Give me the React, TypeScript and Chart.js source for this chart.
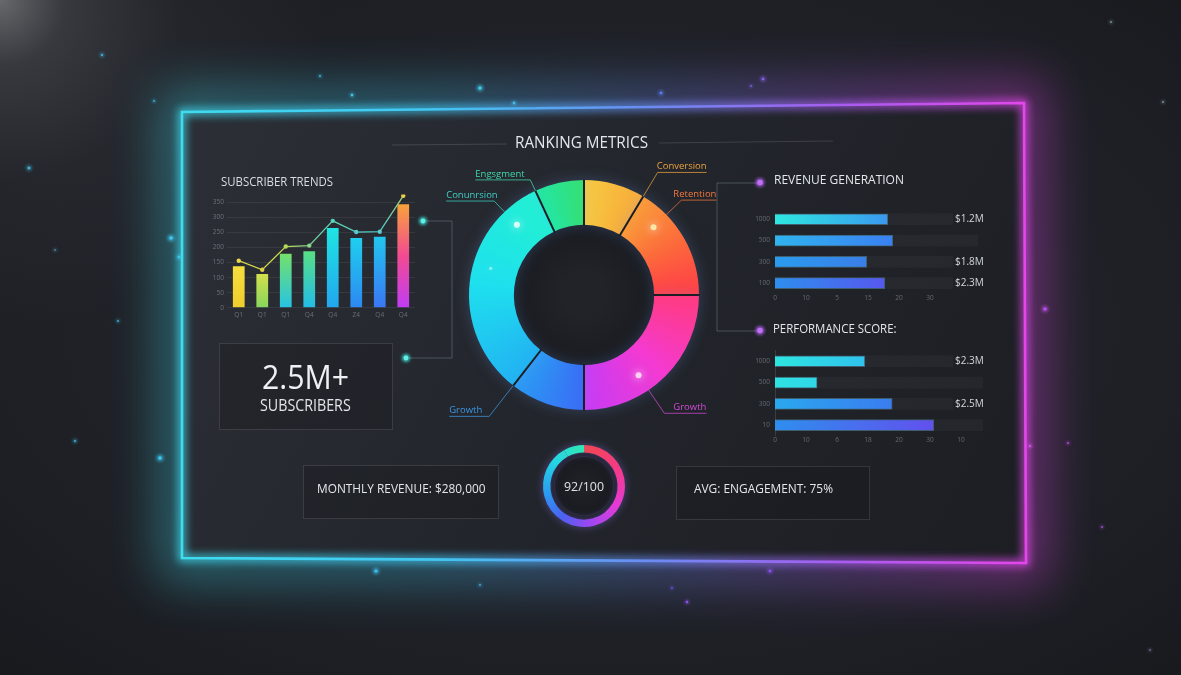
import React, { useEffect, useRef } from "react";
import { Chart, registerables } from "chart.js";

Chart.register(...registerables);

// ---------------- data ----------------
const subscriberQuarters = ["Q1", "Q1", "Q1", "Q4", "Q4", "Z4", "Q4", "Q4"];
const subscriberBars = [138, 112, 179, 187, 264, 231, 235, 343];
const subscriberTrend = [156, 126, 203, 206, 288, 251, 252, 371];
const subscriberTicks = ["0", "50", "100", "150", "200", "250", "300", "350"];

const rankingLabels = ["Conversion", "Retention", "Growth", "Growth", "Conunrsion", "Engsgment"];
const rankingValues = [31, 59, 90, 38, 117, 25];

const revenueCategories = ["1000", "500", "300", "100"];
const revenueValues = [18.2, 19.0, 14.8, 17.7];
const revenueTrack = [28.7, 32.7, 28.7, 28.7];
const revenueAmounts = ["$1.2M", "", "$1.8M", "$2.3M"];
const revenueTicks = ["0", "10", "5", "15", "20", "30"];

const performanceCategories = ["1000", "500", "300", "10"];
const performanceValues = [14.5, 6.8, 18.9, 25.6];
const performanceTrack = [28.7, 33.5, 28.7, 33.5];
const performanceAmounts = ["$2.3M", "", "$2.5M", ""];
const performanceTicks = ["0", "10", "6", "18", "20", "30", "10"];

const scoreValue = 92;
const scoreMax = 100;

const titleText = "RANKING METRICS";
const subscriberTitle = "SUBSCRIBER TRENDS";
const revenueTitle = "REVENUE GENERATION";
const performanceTitle = "PERFORMANCE SCORE:";
const subscriberHeadline = "2.5M+";
const subscriberCaption = "SUBSCRIBERS";
const monthlyRevenueText = "MONTHLY REVENUE: $280,000";
const engagementText = "AVG: ENGAGEMENT: 75%";

// ---------------- styles ----------------
const FONT = '"Open Sans", "Noto Sans", sans-serif';
const TICK = "rgba(200,208,218,0.40)";
const HEAD = "#e3e7ec";

const subscriberBarColors = [
  ["#f5de3f", "#efcd2c"],
  ["#d3e04c", "#86d65c"],
  ["#74e06a", "#26c4e4"],
  ["#58de86", "#22bde8"],
  ["#20e4e2", "#22a6f0"],
  ["#20cfee", "#2c88f2"],
  ["#22c6ee", "#3a76f4"],
  ["#f8a23a", "#f24a92", "#c03cf5"],
];
const subscriberPointColors = ["#e8d84a", "#e0d044", "#b8d85a", "#8ad88a", "#58d0c0", "#58c8d0", "#60c8c8", "#e8d24a"];

const rankingColors = [
  ["#f6cb40", "#f8aa3a"],
  ["#f99c3a", "#fc6a3b", "#ff3d48"],
  ["#ff3b80", "#f43ad2", "#c63bf4"],
  ["#3a6cf6", "#2a9cf2"],
  ["#22b2f2", "#1ee0ee", "#22f0d2"],
  ["#22e6a6", "#36df72"],
];

const rankingCallouts = [
  { seg: 5, frac: 0, from: "outer", reach: 12, run: -55, color: "#3fd9a8" },
  { seg: 0, frac: 1, from: "outer", reach: 28, run: 49, color: "#e9a23f" },
  { seg: 1, frac: 0.25, from: "outer", reach: 21, run: 35, color: "#f2783f" },
  { seg: 4, frac: 0.84, from: "outer", reach: 15, run: -48, color: "#3ccfc4" },
  { seg: 3, frac: 1, from: "outer", reach: 39, run: -40, color: "#3b98e6" },
  { seg: 2, frac: 0.62, from: "mid", reach: 28, run: 42, color: "#d14ad6" },
];
const rankingDots = [
  { seg: 4, frac: 0.84, color: "#d8fff6", r: 3 },
  { seg: 1, frac: 0.25, color: "#ffe6a8", r: 3 },
  { seg: 2, frac: 0.62, color: "#ffd0f2", r: 3 },
  { seg: 4, frac: 0.58, color: "rgba(220,255,255,0.55)", r: 1.6 },
];

const revenueBarColors = [
  ["#2ee8e0", "#3a98f0"],
  ["#30b4ee", "#3a80f2"],
  ["#2a9cee", "#3a7ee8"],
  ["#2e8eee", "#5658ee"],
];
const performanceBarColors = [
  ["#2ee6e0", "#30c2ee"],
  ["#2ee2e2", "#30d6e8"],
  ["#2aa8ee", "#3a7cf0"],
  ["#2e8eee", "#6250ee"],
];

const gaugeStops: [number, string][] = [
  [0, "#f2474e"],
  [0.18, "#f43a8a"],
  [0.34, "#e43ad8"],
  [0.48, "#9b48f2"],
  [0.6, "#4a62f2"],
  [0.72, "#2a9cf0"],
  [0.86, "#22d6e4"],
  [1, "#30e8b4"],
];

// ---------------- helpers ----------------
let measurer: CanvasRenderingContext2D | null = null;
function textScale(text: string, font: string, width: number) {
  if (!measurer) measurer = document.createElement("canvas").getContext("2d");
  measurer!.font = font;
  const w = measurer!.measureText(text).width;
  return w > 0 ? width / w : 1;
}

function FitLabel(props: {
  text: string; left: number; cy: number; width: number; size: number; color?: string; weight?: number;
}) {
  const { text, left, cy, width, size, color = HEAD, weight = 400 } = props;
  const k = textScale(text, `${weight} ${size}px ${FONT}`, width);
  return (
    <div
      style={{
        position: "absolute",
        left,
        top: cy - 0.531 * size,
        fontFamily: FONT,
        fontSize: size,
        fontWeight: weight,
        lineHeight: `${size}px`,
        color,
        whiteSpace: "nowrap",
        transform: `scaleX(${k})`,
        transformOrigin: "0 50%",
      }}
    >
      {text}
    </div>
  );
}

function ChartCanvas(props: { left: number; top: number; width: number; height: number; build: () => any }) {
  const ref = useRef<HTMLCanvasElement>(null);
  useEffect(() => {
    const chart = new Chart(ref.current as HTMLCanvasElement, props.build());
    return () => chart.destroy();
  }, []);
  return (
    <canvas
      ref={ref}
      width={props.width}
      height={props.height}
      style={{ position: "absolute", left: props.left, top: props.top, width: props.width, height: props.height }}
    />
  );
}

const tickFont = { size: 6.5, family: FONT, lineHeight: 1.1 };

// ---------------- subscriber trends ----------------
function subscriberConfig() {
  return {
    type: "bar",
    data: {
      labels: subscriberQuarters,
      datasets: [
        {
          type: "line",
          data: subscriberTrend,
          order: 0,
          borderWidth: 1.3,
          tension: 0,
          pointRadius: 2.2,
          pointBorderWidth: 0,
          pointBackgroundColor: subscriberPointColors,
          borderColor: (c: any) => {
            const a = c.chart.chartArea;
            if (!a) return "#cfd84a";
            const g = c.chart.ctx.createLinearGradient(a.left, 0, a.right, 0);
            g.addColorStop(0, "#e4d64a");
            g.addColorStop(0.3, "#c4d852");
            g.addColorStop(0.5, "#62d2a8");
            g.addColorStop(0.82, "#4ccac6");
            g.addColorStop(1, "#d8d450");
            return g;
          },
        },
        {
          type: "bar",
          data: subscriberBars,
          order: 1,
          barPercentage: 0.5,
          categoryPercentage: 1,
          backgroundColor: (c: any) => {
            const i = c.dataIndex;
            if (i == null) return subscriberBarColors[0][0];
            const cols = subscriberBarColors[i];
            const chart = c.chart;
            const a = chart.chartArea;
            if (!a || !chart.scales.y) return cols[0];
            const top = chart.scales.y.getPixelForValue(subscriberBars[i]);
            const g = chart.ctx.createLinearGradient(0, top, 0, a.bottom);
            cols.forEach((col: string, k: number) => g.addColorStop(k / (cols.length - 1), col));
            return g;
          },
        },
      ],
    },
    options: {
      responsive: false,
      animation: false,
      layout: { padding: { top: 5, right: 0 } },
      plugins: { legend: { display: false }, tooltip: { enabled: false } },
      scales: {
        x: {
          grid: { display: false, drawTicks: false },
          border: { display: false },
          ticks: { color: TICK, font: tickFont, padding: 4, maxRotation: 0, minRotation: 0, autoSkip: false },
        },
        y: {
          min: 0,
          max: 375,
          border: { display: false },
          grid: { color: "rgba(255,255,255,0.07)", drawTicks: false },
          ticks: {
            stepSize: 50,
            includeBounds: false,
            color: TICK,
            font: tickFont,
            padding: 3,
            callback: (_v: any, i: number) => subscriberTicks[i],
          },
          afterFit: (s: any) => { s.width = 27; },
        },
      },
    },
  };
}

// ---------------- ranking doughnut ----------------
function rankingFill(c: any) {
  const chart = c.chart;
  const a = chart.chartArea;
  if (!a) return rankingColors[c.dataIndex ?? 0][0];
  const cx = (a.left + a.right) / 2;
  const cy = (a.top + a.bottom) / 2;
  const g = chart.ctx.createConicGradient(-Math.PI / 2, cx, cy);
  const total = rankingValues.reduce((s, v) => s + v, 0);
  let acc = 0;
  rankingValues.forEach((v, i) => {
    const s = acc / total;
    const e = (acc + v) / total;
    const cols = rankingColors[i];
    cols.forEach((col, k) => g.addColorStop(Math.min(1, Math.max(0, s + ((e - s) * k) / (cols.length - 1))), col));
    acc += v;
  });
  return g;
}

function arcPoint(el: any, frac: number, r: number) {
  const p = el.getProps(["x", "y", "startAngle", "endAngle"], true);
  const ang = p.startAngle + (p.endAngle - p.startAngle) * frac;
  return [p.x + r * Math.cos(ang), p.y + r * Math.sin(ang)];
}

const ringGlow = {
  id: "ringGlow",
  beforeDatasetsDraw(chart: any) {
    const el = chart.getDatasetMeta(0).data[0];
    const ctx = chart.ctx;
    ctx.save();
    if (el) {
      const { x, y, innerRadius } = el.getProps(["x", "y", "innerRadius"], true);
      const g = ctx.createRadialGradient(x, y, innerRadius * 0.3, x, y, innerRadius);
      g.addColorStop(0, "rgba(33,35,41,1)");
      g.addColorStop(1, "rgba(25,27,32,1)");
      ctx.fillStyle = g;
      ctx.beginPath();
      ctx.arc(x, y, innerRadius, 0, Math.PI * 2);
      ctx.fill();
    }
    ctx.shadowColor = "rgba(110,160,255,0.25)";
    ctx.shadowBlur = 14;
  },
  afterDatasetsDraw(chart: any) {
    chart.ctx.restore();
  },
};

const rankingAnnotations = {
  id: "rankingAnnotations",
  afterDatasetsDraw(chart: any) {
    const ctx = chart.ctx;
    const arcs = chart.getDatasetMeta(0).data;
    ctx.save();
    ctx.strokeStyle = "#1c1e24";
    ctx.lineWidth = 2;
    arcs.forEach((el: any) => {
      const { innerRadius, outerRadius } = el.getProps(["innerRadius", "outerRadius"], true);
      const [xa, ya] = arcPoint(el, 0, innerRadius - 1);
      const [xb, yb] = arcPoint(el, 0, outerRadius + 0.5);
      ctx.beginPath();
      ctx.moveTo(xa, ya);
      ctx.lineTo(xb, yb);
      ctx.stroke();
    });
    ctx.lineWidth = 1;
    ctx.font = `9.5px ${FONT}`;
    ctx.textBaseline = "alphabetic";
    rankingCallouts.forEach((co) => {
      const el = arcs[co.seg];
      if (!el) return;
      const { innerRadius, outerRadius } = el.getProps(["innerRadius", "outerRadius"], true);
      const r0 = co.from === "outer" ? outerRadius : innerRadius + 0.6 * (outerRadius - innerRadius);
      const [x0, y0] = arcPoint(el, co.frac, r0);
      const [x1, y1] = arcPoint(el, co.frac, outerRadius + co.reach);
      const x2 = x1 + co.run;
      ctx.strokeStyle = co.color;
      ctx.globalAlpha = 0.75;
      ctx.beginPath();
      ctx.moveTo(x0, y0);
      ctx.lineTo(x1, y1);
      ctx.lineTo(x2, y1);
      ctx.stroke();
      ctx.globalAlpha = 1;
      ctx.fillStyle = co.color;
      ctx.textAlign = co.run < 0 ? "left" : "right";
      ctx.fillText(rankingLabels[co.seg], x2, y1 - 3);
    });
    rankingDots.forEach((d) => {
      const el = arcs[d.seg];
      if (!el) return;
      const { innerRadius, outerRadius } = el.getProps(["innerRadius", "outerRadius"], true);
      const [x, y] = arcPoint(el, d.frac, innerRadius + 0.6 * (outerRadius - innerRadius));
      ctx.save();
      ctx.shadowColor = "rgba(255,255,255,0.9)";
      ctx.shadowBlur = 8;
      ctx.fillStyle = d.color;
      ctx.beginPath();
      ctx.arc(x, y, d.r, 0, Math.PI * 2);
      ctx.fill();
      ctx.restore();
    });
    ctx.restore();
  },
};

function rankingConfig() {
  return {
    type: "doughnut",
    data: {
      labels: rankingLabels,
      datasets: [
        {
          data: rankingValues,
          backgroundColor: rankingFill,
          borderWidth: 0,
          hoverOffset: 0,
        },
      ],
    },
    options: {
      responsive: false,
      animation: false,
      cutout: "61%",
      layout: { padding: { left: 40, right: 40, top: 30, bottom: 30 } },
      plugins: { legend: { display: false }, tooltip: { enabled: false } },
    },
    plugins: [ringGlow, rankingAnnotations],
  };
}

// ---------------- horizontal bars ----------------
function hbarConfig(
  categories: string[], values: number[], track: number[], amounts: string[], tickLabels: string[],
  colors: string[][], showAxis: boolean
) {
  const amountPlugin = {
    id: "amounts",
    afterDatasetsDraw(chart: any) {
      const { ctx } = chart;
      const x = chart.scales.x;
      const y = chart.scales.y;
      ctx.save();
      ctx.fillStyle = "#d3d8df";
      ctx.font = `10px ${FONT}`;
      ctx.textBaseline = "middle";
      ctx.textAlign = "left";
      amounts.forEach((t, i) => {
        if (!t) return;
        ctx.fillText(t, x.getPixelForValue(track[i]) + 2, y.getPixelForValue(i));
      });
      ctx.restore();
    },
  };
  return {
    type: "bar",
    data: {
      labels: categories,
      datasets: [
        {
          data: values,
          order: 0,
          grouped: false,
          barThickness: 11,
          borderWidth: 1,
          borderColor: "rgba(120,220,255,0.3)",
          backgroundColor: (c: any) => {
            const i = c.dataIndex;
            if (i == null) return colors[0][0];
            const chart = c.chart;
            const xs = chart.scales.x;
            if (!chart.chartArea || !xs) return colors[i][0];
            const g = chart.ctx.createLinearGradient(xs.getPixelForValue(0), 0, xs.getPixelForValue(values[i]), 0);
            g.addColorStop(0, colors[i][0]);
            g.addColorStop(1, colors[i][1]);
            return g;
          },
        },
        {
          data: track,
          order: 1,
          grouped: false,
          barThickness: 11,
          backgroundColor: "rgba(255,255,255,0.035)",
        },
      ],
    },
    options: {
      indexAxis: "y",
      responsive: false,
      animation: false,
      layout: { padding: 0 },
      plugins: { legend: { display: false }, tooltip: { enabled: false } },
      scales: {
        x: {
          min: 0,
          max: 35,
          grid: { display: false, drawTicks: false },
          border: { display: false },
          ticks: {
            stepSize: 5,
            includeBounds: false,
            autoSkip: false,
            maxRotation: 0,
            minRotation: 0,
            color: TICK,
            font: tickFont,
            padding: 1,
            callback: (_v: any, i: number) => (tickLabels[i] !== undefined ? tickLabels[i] : null),
          },
        },
        y: {
          grid: { display: false, drawTicks: false },
          border: { display: showAxis, color: "rgba(255,255,255,0.12)" },
          ticks: { color: TICK, font: tickFont, padding: 5 },
          afterFit: (s: any) => { s.width = 30; },
        },
      },
    },
    plugins: [amountPlugin],
  };
}

// ---------------- gauge ----------------
function gaugeFill(c: any) {
  const chart = c.chart;
  const a = chart.chartArea;
  if (!a) return gaugeStops[0][1];
  const g = chart.ctx.createConicGradient(-Math.PI / 2, (a.left + a.right) / 2, (a.top + a.bottom) / 2);
  gaugeStops.forEach(([o, col]) => g.addColorStop(o, col));
  return g;
}

const gaugeCenter = {
  id: "gaugeCenter",
  beforeDatasetsDraw(chart: any) {
    const el = chart.getDatasetMeta(0).data[0];
    if (!el) return;
    const { x, y, innerRadius } = el.getProps(["x", "y", "innerRadius"], true);
    const ctx = chart.ctx;
    ctx.save();
    const g = ctx.createRadialGradient(x, y, 2, x, y, innerRadius);
    g.addColorStop(0, "#202228");
    g.addColorStop(1, "#17191e");
    ctx.fillStyle = g;
    ctx.beginPath();
    ctx.arc(x, y, innerRadius, 0, Math.PI * 2);
    ctx.fill();
    ctx.strokeStyle = "rgba(255,255,255,0.06)";
    ctx.lineWidth = 1;
    ctx.beginPath();
    ctx.arc(x, y, innerRadius - 4, 0, Math.PI * 2);
    ctx.stroke();
    ctx.restore();
    ctx.save();
    ctx.shadowColor = "rgba(140,120,255,0.45)";
    ctx.shadowBlur = 8;
  },
  afterDatasetsDraw(chart: any) {
    const ctx = chart.ctx;
    ctx.restore();
    const el = chart.getDatasetMeta(0).data[0];
    if (!el) return;
    const { x, y } = el.getProps(["x", "y"], true);
    const text = `${scoreValue}/${scoreMax}`;
    const font = `13.5px ${FONT}`;
    ctx.save();
    ctx.font = font;
    const w = ctx.measureText(text).width;
    const k = w > 0 ? 40 / w : 1;
    ctx.translate(x, y + 1.3);
    ctx.scale(k, 1);
    ctx.fillStyle = "#dfe3e9";
    ctx.textAlign = "center";
    ctx.textBaseline = "middle";
    ctx.fillText(text, 0, 0);
    ctx.restore();
  },
};

function gaugeConfig() {
  return {
    type: "doughnut",
    data: {
      labels: ["Score", "Remaining"],
      datasets: [{ data: [scoreValue, scoreMax - scoreValue], backgroundColor: gaugeFill, borderWidth: 0, hoverOffset: 0 }],
    },
    options: {
      responsive: false,
      animation: false,
      cutout: "82%",
      layout: { padding: 9 },
      plugins: { legend: { display: false }, tooltip: { enabled: false } },
    },
    plugins: [gaugeCenter],
  };
}

// ---------------- backdrop ----------------
const FRAME = "182,112 1024,103 1026,563 182,558";
const sparkles: [number, number, number, string][] = [
  [102, 55, 1.2, "#3fb6e0"], [320, 76, 1, "#3fb6e0"], [352, 95, 1.3, "#44c8f0"], [480, 88, 1.8, "#3fd0f4"],
  [514, 103, 1.3, "#40c4f0"], [661, 93, 1.5, "#5a7cf0"], [763, 79, 1.5, "#8a5cf0"], [751, 86, 1, "#7a5ce0"],
  [29, 168, 1.5, "#40b8e0"], [154, 101, 1, "#3ab0d8"], [171, 238, 2, "#3ec8f0"], [179, 257, 1.5, "#3ab8e8"],
  [118, 321, 1, "#3ab0d8"], [75, 441, 1.2, "#3ab0d8"], [160, 458, 2, "#3ec8f0"], [1045, 309, 1.8, "#c050f0"],
  [1030, 446, 1.3, "#c850e8"], [1068, 443, 1, "#b048e0"], [376, 571, 1.8, "#3ec0f0"], [480, 585, 1, "#3aa8e0"],
  [770, 571, 1.5, "#8a50f0"], [672, 588, 1, "#7050e0"], [687, 602, 1.3, "#9050f0"], [1163, 102, 1, "#8090a0"],
  [1111, 22, 1, "#8090a0"], [1102, 527, 1, "#a050d0"], [207, 242, 2, "#3fd0d0"], [410, 407, 1.5, "#d05060"],
  [236, 328, 1.2, "#c04060"], [660, 125, 1, "#6a7cc0"], [55, 250, 1, "#5080a0"], [1150, 650, 1, "#6a6a8a"],
];

function Backdrop() {
  return (
    <svg width={1181} height={675} style={{ position: "absolute", left: 0, top: 0 }}>
      <defs>
        <radialGradient id="bg" cx="50%" cy="48%" r="75%">
          <stop offset="0" stopColor="#25282f" />
          <stop offset="0.65" stopColor="#1e2026" />
          <stop offset="1" stopColor="#17191d" />
        </radialGradient>
        <radialGradient id="corner" cx="0" cy="0" r="330" gradientUnits="userSpaceOnUse">
          <stop offset="0" stopColor="rgba(255,255,255,0.34)" />
          <stop offset="0.2" stopColor="rgba(225,230,238,0.14)" />
          <stop offset="0.55" stopColor="rgba(210,215,225,0.04)" />
          <stop offset="1" stopColor="rgba(200,210,220,0)" />
        </radialGradient>
        <linearGradient id="edge" x1="182" y1="0" x2="1026" y2="0" gradientUnits="userSpaceOnUse">
          <stop offset="0" stopColor="#3fdcef" />
          <stop offset="0.3" stopColor="#42c6f2" />
          <stop offset="0.55" stopColor="#6a8cf2" />
          <stop offset="0.78" stopColor="#a85cf0" />
          <stop offset="1" stopColor="#e446ec" />
        </linearGradient>
        <linearGradient id="panel" x1="182" y1="103" x2="1026" y2="563" gradientUnits="userSpaceOnUse">
          <stop offset="0" stopColor="#2c2f36" />
          <stop offset="0.5" stopColor="#22252b" />
          <stop offset="1" stopColor="#1c1e23" />
        </linearGradient>
        <filter id="blurWide" filterUnits="userSpaceOnUse" x="0" y="0" width="1181" height="675">
          <feGaussianBlur stdDeviation="24" />
        </filter>
        <filter id="blurTight" filterUnits="userSpaceOnUse" x="0" y="0" width="1181" height="675">
          <feGaussianBlur stdDeviation="4" />
        </filter>
        <filter id="dotGlow" filterUnits="userSpaceOnUse" x="0" y="0" width="1181" height="675">
          <feGaussianBlur stdDeviation="1.6" />
        </filter>
      </defs>
      <rect width={1181} height={675} fill="url(#bg)" />
      <rect width={1181} height={675} fill="url(#corner)" />
      <polygon points={FRAME} fill="none" stroke="url(#edge)" strokeWidth={46} opacity={0.38} filter="url(#blurWide)" />
      <g filter="url(#dotGlow)">
        {sparkles.map(([x, y, r, c], i) => (
          <circle key={"g" + i} cx={x} cy={y} r={r * 1.8} fill={c} opacity={0.6} />
        ))}
      </g>
      {sparkles.map(([x, y, r, c], i) => (
        <circle key={"s" + i} cx={x} cy={y} r={r * 0.9} fill={c} />
      ))}
      <polygon points={FRAME} fill="url(#panel)" />
      <polygon points={FRAME} fill="none" stroke="url(#edge)" strokeWidth={7} opacity={0.85} filter="url(#blurTight)" />
      <polygon points={FRAME} fill="none" stroke="url(#edge)" strokeWidth={2.6} />
      <line x1={392} y1={145} x2={507} y2={144} stroke="rgba(255,255,255,0.13)" strokeWidth={1} />
      <line x1={659} y1={143} x2={833} y2={141} stroke="rgba(255,255,255,0.13)" strokeWidth={1} />
      <rect x={219.5} y={343.5} width={173} height={86} fill="rgba(18,20,25,0.25)" stroke="rgba(255,255,255,0.11)" />
      <rect x={303.5} y={465.5} width={195} height={53} fill="rgba(18,20,25,0.25)" stroke="rgba(255,255,255,0.11)" />
      <rect x={676.5} y={466.5} width={193} height={53} fill="rgba(18,20,25,0.25)" stroke="rgba(255,255,255,0.11)" />
      <polyline points="423,221 452,221 452,358 406,358" fill="none" stroke="rgba(170,185,200,0.3)" strokeWidth={1} />
      <polyline points="757,183 717,183 717,331 757,331" fill="none" stroke="rgba(170,185,200,0.3)" strokeWidth={1} />
      <g filter="url(#dotGlow)">
        <circle cx={423} cy={221} r={4} fill="#3fe0d8" opacity={0.8} />
        <circle cx={406} cy={358} r={4} fill="#3fe0d8" opacity={0.8} />
        <circle cx={760} cy={182.5} r={4.5} fill="#b45cf0" opacity={0.8} />
        <circle cx={760} cy={330.5} r={4.5} fill="#b45cf0" opacity={0.8} />
      </g>
      <circle cx={423} cy={221} r={2.4} fill="#5ff0e6" />
      <circle cx={406} cy={358} r={2.4} fill="#5ff0e6" />
      <circle cx={760} cy={182.5} r={2.8} fill="#c070f4" />
      <circle cx={760} cy={330.5} r={2.8} fill="#c070f4" />
    </svg>
  );
}

export default function App() {
  return (
    <div
      style={{
        position: "fixed",
        left: 0,
        top: 0,
        width: 1181,
        height: 675,
        overflow: "hidden",
        background: "#1d1f25",
        fontFamily: FONT,
      }}
    >
      <Backdrop />
      <FitLabel text={titleText} left={515} cy={143} width={133} size={15.4} />
      <FitLabel text={subscriberTitle} left={221} cy={182.5} width={112} size={11.7} color="#d9dde3" />
      <FitLabel text={revenueTitle} left={774} cy={180.5} width={130} size={12.6} />
      <FitLabel text={performanceTitle} left={773} cy={329} width={123.5} size={13} />
      <FitLabel text={subscriberHeadline} left={262} cy={378.4} width={87} size={32} color="#eef0f3" />
      <FitLabel text={subscriberCaption} left={260} cy={405.8} width={90.7} size={16} color="#e3e6ea" />
      <FitLabel text={monthlyRevenueText} left={316.5} cy={489} width={168.5} size={13} />
      <FitLabel text={engagementText} left={693.5} cy={489.3} width={139} size={13} />

      <ChartCanvas left={200} top={188} width={219} height={135} build={subscriberConfig} />
      <ChartCanvas left={429} top={150} width={310} height={290} build={rankingConfig} />
      <ChartCanvas
        left={745}
        top={200}
        width={247}
        height={103}
        build={() => hbarConfig(revenueCategories, revenueValues, revenueTrack, revenueAmounts, revenueTicks, revenueBarColors, false)}
      />
      <ChartCanvas
        left={745}
        top={342}
        width={247}
        height={103}
        build={() =>
          hbarConfig(performanceCategories, performanceValues, performanceTrack, performanceAmounts, performanceTicks, performanceBarColors, true)
        }
      />
      <ChartCanvas left={534} top={436} width={100} height={100} build={gaugeConfig} />
    </div>
  );
}
